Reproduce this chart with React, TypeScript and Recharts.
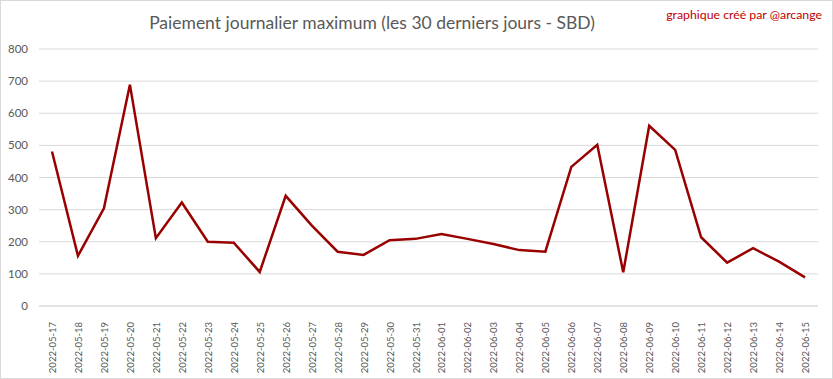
import { CartesianGrid, Line, LineChart, XAxis, YAxis } from "recharts";

const days = [
  "2022-05-17", "2022-05-18", "2022-05-19", "2022-05-20", "2022-05-21",
  "2022-05-22", "2022-05-23", "2022-05-24", "2022-05-25", "2022-05-26",
  "2022-05-27", "2022-05-28", "2022-05-29", "2022-05-30", "2022-05-31",
  "2022-06-01", "2022-06-02", "2022-06-03", "2022-06-04", "2022-06-05",
  "2022-06-06", "2022-06-07", "2022-06-08", "2022-06-09", "2022-06-10",
  "2022-06-11", "2022-06-12", "2022-06-13", "2022-06-14", "2022-06-15",
];

const maxPayout = [
  481, 156, 304, 689, 211, 322, 200, 197, 106, 343,
  251, 169, 159, 205, 209, 224, 209, 193, 174, 169,
  433, 502, 105, 561, 486, 214, 135, 180, 138, 89,
];

const yTicks = [0, 100, 200, 300, 400, 500, 600, 700, 800];

const data = days.map((day, i) => ({ day, value: maxPayout[i] }));

const font = "Lato, 'Open Sans', sans-serif";

const DateTick = (props: any) => {
  const { x, y, payload } = props;
  return (
    <text
      x={x}
      y={y}
      transform={`rotate(-90, ${x}, ${y})`}
      dx={-8}
      dy={4}
      textAnchor="end"
      fill="#595959"
      fontSize={9.5}
      fontFamily={font}
    >
      {payload.value}
    </text>
  );
};

const App = () => {
  return (
    <div
      style={{
        position: "absolute",
        left: 0,
        top: 0,
        width: 833,
        height: 379,
        background: "#fff",
        boxSizing: "border-box",
        border: "1px solid #d9d9d9",
        fontFamily: font,
      }}
    >
      <div
        style={{
          position: "absolute",
          left: 0,
          width: 742,
          top: 11,
          textAlign: "center",
          fontSize: 17.5,
          color: "#595959",
        }}
      >
        Paiement journalier maximum (les 30 derniers jours - SBD)
      </div>
      <div
        style={{
          position: "absolute",
          right: 10,
          top: 6,
          fontSize: 12.3,
          color: "#c00000",
        }}
      >
        graphique créé par @arcange
      </div>
      <LineChart
        width={831}
        height={377}
        data={data}
        margin={{ top: 48, right: 14, bottom: 0, left: 0 }}
      >
        <CartesianGrid vertical={false} stroke="#d9d9d9" />
        <XAxis
          dataKey="day"
          interval={0}
          height={72}
          padding={{ left: 13, right: 13 }}
          tickLine={false}
          axisLine={{ stroke: "#d9d9d9" }}
          tick={<DateTick />}
        />
        <YAxis
          width={38}
          domain={[0, 800]}
          ticks={yTicks}
          tickLine={false}
          axisLine={false}
          tickMargin={5}
          tick={{ fill: "#595959", fontSize: 11.5, fontFamily: font }}
        />
        <Line
          type="linear"
          dataKey="value"
          stroke="#990000"
          strokeWidth={2.5}
          dot={false}
          isAnimationActive={false}
        />
      </LineChart>
    </div>
  );
};

export default App;
